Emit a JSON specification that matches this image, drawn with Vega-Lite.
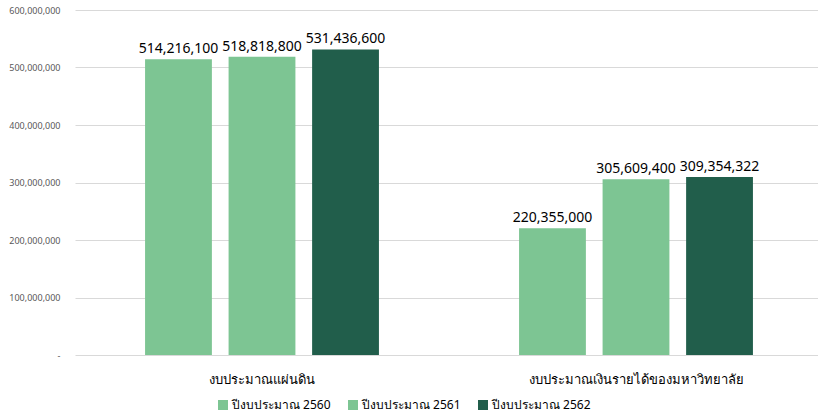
{
  "$schema": "https://vega.github.io/schema/vega-lite/v6.json",
  "width": 748,
  "height": 345,
  "autosize": "none",
  "padding": {"left": 75, "top": 10, "right": 0, "bottom": 59},
  "background": "white",
  "config": {"view": {"stroke": null}, "font": "Noto Sans"},
  "data": {
    "values": [
      {"category": "งบประมาณแผ่นดิน", "year": "ปีงบประมาณ 2560", "value": 514216100},
      {"category": "งบประมาณแผ่นดิน", "year": "ปีงบประมาณ 2561", "value": 518818800},
      {"category": "งบประมาณแผ่นดิน", "year": "ปีงบประมาณ 2562", "value": 531436600},
      {"category": "งบประมาณเงินรายได้ของมหาวิทยาลัย", "year": "ปีงบประมาณ 2560", "value": 220355000},
      {"category": "งบประมาณเงินรายได้ของมหาวิทยาลัย", "year": "ปีงบประมาณ 2561", "value": 305609400},
      {"category": "งบประมาณเงินรายได้ของมหาวิทยาลัย", "year": "ปีงบประมาณ 2562", "value": 309354322}
    ]
  },
  "encoding": {
    "x": {
      "field": "category", "type": "nominal", "sort": null,
      "scale": {"paddingInner": 0.33, "paddingOuter": 0.165},
      "axis": {"title": null, "labelAngle": 0, "domain": false, "ticks": false, "labelPadding": 18, "labelFontSize": 13, "labelColor": "#000000", "labelLimit": 0}
    },
    "xOffset": {"field": "year", "type": "nominal", "scale": {"paddingInner": 0.2, "paddingOuter": 0.1}},
    "y": {
      "field": "value", "type": "quantitative",
      "scale": {"domain": [0, 600000000], "nice": false},
      "axis": {"title": null, "values": [0,100000000,200000000,300000000,400000000,500000000,600000000], "labelExpr": "datum.value == 0 ? '-' : format(datum.value, ',')", "labelOverlap": false, "domain": false, "ticks": false, "labelPadding": 15, "labelFontSize": 9, "labelColor": "#595959", "gridColor": "#d9d9d9", "gridWidth": 1}
    }
  },
  "layer": [
    {
      "mark": {"type": "bar"},
      "encoding": {
        "color": {
          "field": "year", "type": "nominal",
          "scale": {"domain": ["ปีงบประมาณ 2560", "ปีงบประมาณ 2561", "ปีงบประมาณ 2562"], "range": ["#7DC593", "#7DC593", "#215E4B"]},
          "legend": {"title": null, "orient": "none", "legendX": 142, "legendY": 389, "direction": "horizontal", "symbolType": "square", "symbolSize": 100, "symbolStrokeWidth": 0, "labelFontSize": 12, "labelColor": "#000000", "columnPadding": 16, "labelOffset": 3}
        }
      }
    },
    {
      "mark": {"type": "text", "dy": -10, "fontSize": 14, "color": "#000000"},
      "encoding": {"text": {"field": "value", "type": "quantitative", "format": ","}}
    }
  ]
}
